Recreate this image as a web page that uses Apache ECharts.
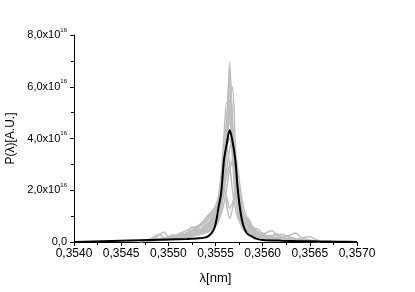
<!DOCTYPE html>
<html>
<head>
<meta charset="utf-8">
<script src="https://cdn.jsdelivr.net/npm/echarts@6/dist/echarts.min.js"></script>
<style>html,body{margin:0;padding:0;background:#fff}#c{width:415px;height:292px}</style>
</head>
<body>
<div id="c"></div>
<script>
// x axis ticks (nm) and y axis ticks (units of 1e16)
const xTicks = [0.3540, 0.3545, 0.3550, 0.3555, 0.3560, 0.3565, 0.3570];
const yTicks = [0, 2, 4, 6, 8];
const yTickLabels = ['0,0', '2,0x10', '4,0x10', '6,0x10', '8,0x10'];
const yExponent = '16';

// mean spectrum (black)
const blackX = [0.3540, 0.3542, 0.3544, 0.3546, 0.3548, 0.3550, 0.3552, 0.3553, 0.35537, 0.35542, 0.35546, 0.35549, 0.35551, 0.35553, 0.35556, 0.35559, 0.35562, 0.35565, 0.35568, 0.35571, 0.35574, 0.35578, 0.35583, 0.35590, 0.35594, 0.3560, 0.3562, 0.3564, 0.3566, 0.3568, 0.3570];
const blackY = [0.00, 0.02, 0.04, 0.06, 0.08, 0.10, 0.12, 0.14, 0.16, 0.22, 0.35, 0.55, 0.85, 1.30, 1.89, 3.17, 3.80, 4.33, 3.90, 3.17, 1.89, 0.85, 0.35, 0.18, 0.12, 0.08, 0.05, 0.03, 0.02, 0.01, 0.00];

// individual spectra (grey)
const grayX = [0.35470, 0.35475, 0.35480, 0.35485, 0.35490, 0.35495, 0.35500, 0.35505, 0.35510, 0.35515, 0.35520, 0.35525, 0.35530, 0.35535, 0.35540, 0.35545, 0.35550, 0.35553, 0.35556, 0.35559, 0.35562, 0.35565, 0.35568, 0.35571, 0.35574, 0.35577, 0.35580, 0.35585, 0.35590, 0.35595, 0.35600, 0.35605, 0.35610, 0.35615, 0.35620, 0.35625, 0.35630, 0.35635, 0.35640, 0.35645, 0.35650, 0.35655, 0.35660];
const gray1 = [0.05,0.08,0.06,0.10,0.12,0.15,0.12,0.18,0.20,0.22,0.25,0.30,0.28,0.35,0.40,0.50,0.70,0.90,1.40,2.40,4.20,6.96,4.30,2.30,1.30,0.80,0.55,0.35,0.25,0.20,0.15,0.12,0.10,0.10,0.08,0.08,0.06,0.06,0.05,0.05,0.04,0.03,0.02];
const gray2 = [0.06,0.05,0.09,0.14,0.25,0.39,0.20,0.12,0.15,0.18,0.22,0.25,0.30,0.35,0.45,0.60,0.85,1.10,1.60,2.80,4.50,6.20,4.60,2.60,1.50,0.95,0.70,0.45,0.30,0.22,0.18,0.14,0.12,0.10,0.09,0.08,0.07,0.06,0.05,0.05,0.04,0.03,0.02];
const gray3 = [0.04,0.06,0.07,0.08,0.10,0.12,0.14,0.16,0.20,0.30,0.35,0.58,0.35,0.40,0.50,0.75,1.00,1.30,2.00,3.20,4.80,5.50,4.40,2.80,1.70,1.05,0.75,0.40,0.58,0.28,0.20,0.15,0.12,0.10,0.09,0.08,0.07,0.06,0.05,0.04,0.04,0.03,0.02];
const gray4 = [0.03,0.04,0.06,0.08,0.09,0.10,0.12,0.15,0.18,0.20,0.25,0.28,0.35,0.50,0.75,1.05,1.35,1.20,1.60,2.60,4.00,5.00,4.20,2.50,1.40,0.90,0.60,0.40,0.30,0.25,0.30,0.38,0.43,0.25,0.15,0.12,0.10,0.08,0.06,0.05,0.04,0.03,0.02];
const gray5 = [0.02,0.03,0.05,0.06,0.08,0.10,0.12,0.14,0.16,0.20,0.24,0.30,0.38,0.45,0.55,0.70,0.90,1.20,1.80,2.90,4.00,4.60,4.10,3.00,1.80,1.10,1.00,0.70,0.40,0.30,0.22,0.18,0.15,0.13,0.15,0.20,0.28,0.35,0.20,0.12,0.08,0.05,0.03];
const gray6 = [0.02,0.03,0.04,0.05,0.07,0.09,0.11,0.13,0.15,0.18,0.22,0.26,0.32,0.40,0.55,0.80,1.10,1.50,2.30,3.20,3.60,3.00,2.00,1.30,0.90,0.70,0.55,0.40,0.30,0.25,0.20,0.16,0.13,0.11,0.10,0.09,0.08,0.10,0.14,0.18,0.20,0.12,0.04];
const gray7 = [0.03,0.05,0.07,0.06,0.08,0.10,0.11,0.13,0.18,0.22,0.28,0.33,0.40,0.48,0.60,0.85,1.20,1.70,2.30,2.10,1.40,0.90,1.30,2.00,2.20,1.60,1.00,0.60,0.40,0.28,0.22,0.18,0.15,0.12,0.10,0.08,0.07,0.06,0.05,0.04,0.03,0.03,0.02];
const gray8 = [0.02,0.03,0.04,0.05,0.06,0.08,0.10,0.12,0.14,0.17,0.20,0.25,0.30,0.38,0.48,0.60,0.80,1.00,1.40,2.00,2.60,2.95,3.00,2.60,1.90,1.30,0.90,0.55,0.38,0.28,0.22,0.18,0.15,0.12,0.10,0.09,0.07,0.06,0.05,0.04,0.03,0.02,0.02];
const gray9 = [0.05,0.07,0.10,0.08,0.12,0.15,0.20,0.28,0.22,0.25,0.35,0.45,0.55,0.70,0.95,1.10,0.95,1.20,1.90,3.10,4.60,5.80,4.50,2.70,1.50,0.95,0.80,0.60,0.42,0.30,0.35,0.22,0.16,0.12,0.10,0.09,0.08,0.07,0.06,0.05,0.04,0.03,0.02];
const gray10 = [0.03,0.04,0.05,0.07,0.09,0.11,0.13,0.15,0.18,0.21,0.25,0.30,0.36,0.44,0.56,0.72,0.95,1.25,1.90,2.90,3.70,4.00,3.50,2.60,1.70,1.20,0.95,0.90,0.55,0.50,0.30,0.20,0.16,0.14,0.12,0.10,0.09,0.08,0.07,0.06,0.05,0.04,0.03];
const gray11 = [0.04,0.06,0.10,0.20,0.30,0.18,0.15,0.20,0.26,0.32,0.28,0.38,0.45,0.52,0.65,0.88,1.15,1.45,2.10,3.30,4.60,5.20,4.30,2.90,1.80,1.20,0.85,0.62,0.45,0.35,0.28,0.22,0.18,0.15,0.20,0.25,0.18,0.12,0.09,0.07,0.05,0.04,0.03];
const gray12 = [0.02,0.03,0.04,0.05,0.06,0.07,0.09,0.11,0.13,0.16,0.19,0.23,0.28,0.34,0.42,0.52,0.68,0.85,1.10,1.50,2.10,2.80,3.20,3.30,2.70,1.90,1.30,0.80,0.52,0.38,0.28,0.22,0.18,0.15,0.13,0.11,0.09,0.08,0.06,0.05,0.04,0.03,0.02];
const gray13 = [0.02,0.03,0.05,0.06,0.08,0.09,0.10,0.12,0.14,0.16,0.18,0.22,0.26,0.30,0.36,0.45,0.60,0.80,1.20,2.20,4.00,6.50,4.10,2.00,1.10,0.65,0.45,0.32,0.25,0.20,0.16,0.13,0.11,0.09,0.08,0.07,0.06,0.05,0.04,0.04,0.03,0.02,0.02];
const gray14 = [0.03,0.04,0.06,0.08,0.11,0.14,0.18,0.22,0.30,0.38,0.46,0.55,0.60,0.72,0.90,1.10,1.40,1.70,1.95,2.00,1.70,1.30,1.50,1.80,1.70,1.40,1.05,0.70,0.48,0.36,0.28,0.24,0.22,0.26,0.30,0.22,0.15,0.11,0.08,0.06,0.05,0.04,0.03];
const gray15 = [0.03,0.05,0.06,0.08,0.10,0.12,0.14,0.17,0.20,0.24,0.30,0.36,0.42,0.50,0.62,0.78,1.00,1.25,1.60,2.30,3.60,5.20,6.00,3.80,2.00,1.20,0.85,0.60,0.45,0.33,0.26,0.20,0.16,0.13,0.11,0.09,0.08,0.07,0.06,0.05,0.04,0.03,0.02];
const gray16 = [0.04,0.05,0.07,0.09,0.12,0.14,0.17,0.20,0.25,0.30,0.36,0.44,0.52,0.64,0.80,1.00,1.30,1.70,2.60,4.10,5.40,5.00,3.20,1.80,1.10,0.75,0.55,0.40,0.30,0.24,0.20,0.16,0.13,0.11,0.10,0.09,0.08,0.06,0.05,0.05,0.04,0.03,0.02];
const gray17 = [0.02,0.03,0.05,0.07,0.08,0.10,0.12,0.14,0.17,0.21,0.26,0.31,0.37,0.45,0.57,0.74,0.96,1.22,1.75,2.80,4.10,4.80,4.00,2.50,1.50,1.05,1.00,0.80,0.50,0.36,0.27,0.21,0.17,0.14,0.12,0.10,0.09,0.08,0.06,0.05,0.04,0.03,0.02];
const gray18 = [0.03,0.04,0.06,0.07,0.09,0.11,0.13,0.15,0.18,0.22,0.26,0.32,0.38,0.46,0.58,0.72,0.92,1.15,1.60,2.70,4.40,6.60,4.60,2.40,1.30,0.85,0.62,0.45,0.34,0.26,0.21,0.17,0.14,0.12,0.10,0.09,0.08,0.07,0.06,0.05,0.04,0.03,0.02];
const gray19 = [0.04,0.05,0.06,0.09,0.11,0.13,0.16,0.19,0.23,0.27,0.33,0.40,0.50,0.66,0.90,1.15,1.30,1.40,2.00,3.00,3.90,4.30,3.70,2.40,1.40,0.90,0.65,0.46,0.34,0.27,0.22,0.18,0.15,0.12,0.10,0.09,0.08,0.07,0.06,0.05,0.04,0.03,0.02];
const gray20 = [0.02,0.03,0.04,0.06,0.07,0.09,0.11,0.13,0.16,0.19,0.23,0.27,0.33,0.40,0.50,0.64,0.82,1.02,1.35,1.95,2.80,3.60,3.90,3.10,2.00,1.30,0.90,0.58,0.42,0.32,0.25,0.22,0.26,0.32,0.22,0.14,0.10,0.08,0.06,0.05,0.04,0.03,0.02];
const grays = [gray1, gray2, gray3, gray4, gray5, gray6, gray7, gray8, gray9, gray10, gray11, gray12, gray13, gray14, gray15, gray16, gray17, gray18, gray19, gray20];

const zip = (xs, ys) => xs.map((x, i) => [x, ys[i]]);
const font = 'Liberation Sans, Arial, sans-serif';

const series = grays.map(g => ({
  type: 'line', data: zip(grayX, g), symbol: 'none', smooth: 0.3,
  lineStyle: { color: '#bfbfbf', width: 1.5 }, z: 2, silent: true
}));
series.push({
  type: 'line', data: zip(blackX, blackY), symbol: 'none', smooth: 0.3,
  lineStyle: { color: '#000', width: 2 }, z: 3, silent: true
});

const chart = echarts.init(document.getElementById('c'), null, { renderer: 'canvas' });
chart.setOption({
  animation: false,
  backgroundColor: '#fff',
  grid: { left: 74, right: 58, top: 35, bottom: 50, containLabel: false, outerBoundsMode: 'none' },
  xAxis: {
    type: 'value', min: xTicks[0], max: xTicks[xTicks.length - 1], interval: 0.0005,
    name: 'λ[nm]', nameLocation: 'middle', nameGap: 30,
    nameTextStyle: { fontFamily: font, fontSize: 13, color: '#000' },
    axisLine: { lineStyle: { color: '#000', width: 1 } },
    axisTick: { inside: false, length: 4, lineStyle: { color: '#000' } },
    minorTick: { show: true, splitNumber: 2, length: 3, lineStyle: { color: '#000' } },
    splitLine: { show: false },
    axisLabel: {
      fontFamily: font, fontSize: 12, color: '#000', margin: 6,
      formatter: v => {
        const i = xTicks.findIndex(t => Math.abs(t - v) < 1e-9);
        return i >= 0 ? xTicks[i].toFixed(4).replace('.', ',') : '';
      }
    }
  },
  yAxis: {
    type: 'value', min: yTicks[0], max: yTicks[yTicks.length - 1], interval: 2,
    name: 'P(λ)[A.U.]', nameLocation: 'middle', nameGap: 56, nameRotate: 90,
    nameTextStyle: { fontFamily: font, fontSize: 12, color: '#000' },
    axisLine: { show: true, lineStyle: { color: '#000', width: 1 } },
    axisTick: { show: true, inside: false, length: 4, lineStyle: { color: '#000' } },
    minorTick: { show: true, splitNumber: 2, length: 3, lineStyle: { color: '#000' } },
    splitLine: { show: false },
    axisLabel: {
      fontFamily: font, fontSize: 11, color: '#000', margin: 7,
      formatter: v => {
        const i = yTicks.findIndex(t => Math.abs(t - v) < 1e-9);
        if (i < 0) return '';
        if (i === 0) return '{m|' + yTickLabels[0] + '}';
        return '{m|' + yTickLabels[i] + '}{s|' + yExponent + '}';
      },
      rich: {
        m: { fontFamily: font, fontSize: 11, color: '#000', lineHeight: 16 },
        s: { fontFamily: font, fontSize: 6, color: '#000', verticalAlign: 'top', lineHeight: 16 }
      }
    }
  },
  series
});
</script>
</body>
</html>
